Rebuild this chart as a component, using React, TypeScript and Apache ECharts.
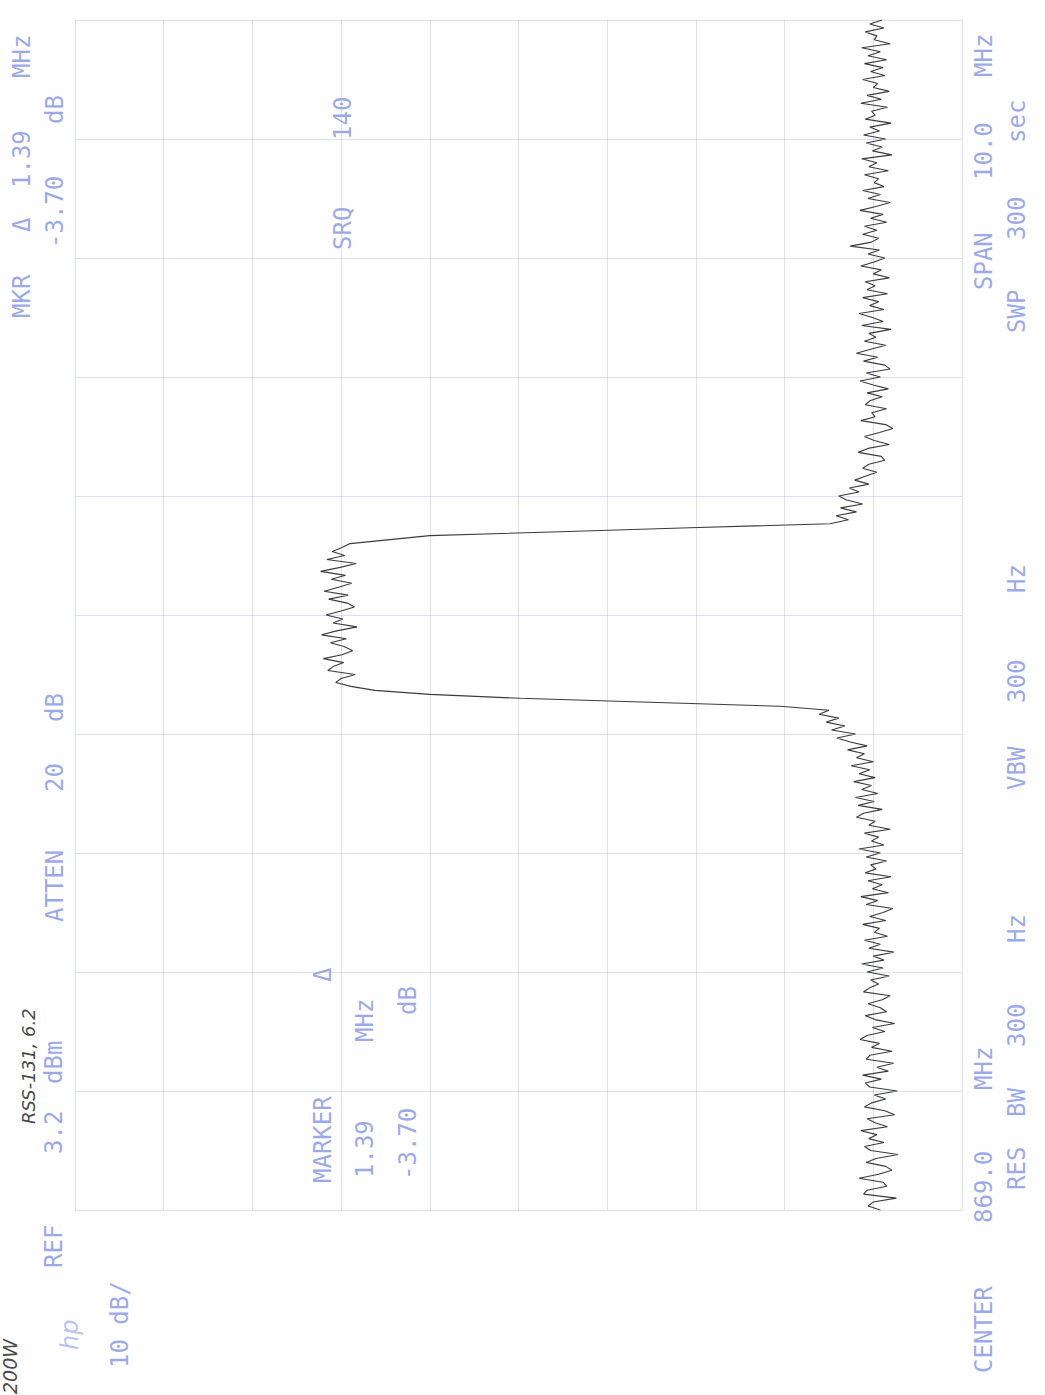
import React, { useEffect, useRef } from "react";
import * as echarts from "echarts";

// Instrument settings
const REF_DBM = 3.2;
const CENTER_MHZ = 869.0;
const SPAN_MHZ = 10.0;
const DB_PER_DIV = 10;
const DIVS = 10;

const lowerNoise = [
  -87.6, -86.2, -86.8, -89.4, -85.7, -86.1, -88.3, -87.9, -85.2, -87.4, -88.9, -88.2, -86.0, -87.1, -89.6, -86.5, -85.8, -88.0, -86.3, -87.2,
  -85.4, -88.4, -87.0, -86.1, -89.2, -88.1, -85.8, -86.6, -88.2, -86.9, -89.5, -86.4, -85.9, -87.7, -85.6, -88.5, -87.2, -89.1, -86.0, -86.4,
  -88.9, -86.6, -87.5, -85.3, -86.1, -88.1, -86.7, -89.2, -87.0, -85.9, -88.3, -87.6, -86.2, -87.8, -88.7, -85.7, -86.4, -87.4, -86.5, -88.6,
  -86.1, -87.9, -85.5, -88.0, -86.8, -89.1, -86.3, -87.6, -85.8, -88.4, -86.9, -87.5, -85.6, -88.2, -86.4, -87.9, -89.0, -86.0, -87.3, -85.4,
  -88.5, -86.7, -87.8, -86.2, -88.8, -85.9, -87.1, -86.5, -88.3, -86.0, -87.6, -85.2, -88.0, -86.6, -87.4, -85.8, -88.7, -86.3, -87.0, -84.9,
  -85.7, -87.8, -85.1, -86.9, -84.8, -87.3, -85.5, -86.6, -84.6, -87.0, -85.2, -86.4, -84.3, -86.8, -84.9, -85.8, -83.9, -86.1,
];
const lowerSkirt = [-84.2, -82.7, -84.8, -82.1, -83.6, -81.5, -82.9, -80.7, -81.8];
const lowerEdge = [-76.3, -61.6, -47.0, -36.8, -30.6];
const plateau = [
  -27.9, -26.2, -26.8, -28.4, -25.3, -25.9, -27.1, -24.8, -26.9, -28.1, -27.2, -25.6, -27.4, -24.6, -26.3, -28.6, -25.9, -27.0,
  -25.1, -26.8, -28.3, -27.5, -25.4, -27.6, -24.9, -26.5, -28.0, -25.7, -27.3, -24.5, -26.7, -28.5, -25.2, -27.2, -25.8, -26.9,
];
const upperEdge = [-27.8, -32.3, -36.8, -51.5, -66.1, -81.9];
const upperSkirt = [-84.0, -82.6, -84.9, -83.1, -85.6, -83.8, -82.9, -85.2, -84.1, -86.3, -84.7, -85.9];
const upperNoise = [
  -87.2, -85.6, -86.3, -88.1, -87.7, -85.1, -86.2, -88.6, -86.9, -85.8, -87.5, -89.0, -88.2, -85.4, -87.0, -86.6, -88.3, -85.9, -86.4, -87.8,
  -86.1, -88.5, -86.8, -85.3, -87.6, -86.0, -88.7, -88.1, -85.7, -87.3, -84.9, -86.5, -88.2, -85.8, -87.1, -86.3, -88.8, -85.5, -87.9, -86.7,
  -85.2, -88.0, -86.4, -87.4, -85.6, -88.4, -86.1, -87.0, -85.9, -88.6, -86.8, -87.7, -85.4, -86.9, -88.1, -86.2, -87.5, -84.2, -86.6, -87.4,
  -85.6, -87.2, -85.8, -88.3, -86.5, -87.9, -85.3, -87.1, -88.7, -86.2, -87.6, -85.6, -88.0, -86.9, -87.4, -85.8, -88.5, -86.3, -87.2, -85.5,
  -88.9, -86.7, -87.8, -86.0, -88.2, -85.7, -87.5, -86.4, -88.8, -85.9, -87.0, -86.6, -88.4, -85.4, -87.7, -86.1, -88.6, -86.8, -87.3, -85.6,
  -88.1, -86.5, -87.9, -85.8, -88.3, -86.2, -87.6, -85.5, -88.7, -86.9, -87.2, -85.9, -88.0, -86.4, -87.8,
];

// Annotation texts (rotated, as printed)
const leftAnnots = [
  { t: "MKR", x: 22, y: 318 }, { t: "Δ", x: 22, y: 232 }, { t: "1.39", x: 22, y: 188 }, { t: "MHz", x: 22, y: 78 },
  { t: "-3.70", x: 55, y: 248 }, { t: "dB", x: 55, y: 124 },
  { t: "REF", x: 54, y: 1268 }, { t: "3.2", x: 54, y: 1154 }, { t: "dBm", x: 54, y: 1084 },
  { t: "ATTEN", x: 55, y: 922 }, { t: "20", x: 55, y: 792 }, { t: "dB", x: 55, y: 722 },
  { t: "10 dB/", x: 120, y: 1368 },
];
const bodyAnnots = [
  { t: "MARKER", x: 323, y: 1183 }, { t: "Δ", x: 323, y: 982 },
  { t: "1.39", x: 365, y: 1178 }, { t: "MHz", x: 365, y: 1042 },
  { t: "-3.70", x: 408, y: 1180 }, { t: "dB", x: 408, y: 1015 },
  { t: "SRQ", x: 343, y: 250 }, { t: "140", x: 343, y: 140 },
];
const rightAnnots = [
  { t: "CENTER", x: 984, y: 1373 }, { t: "869.0", x: 984, y: 1223 }, { t: "MHz", x: 984, y: 1090 },
  { t: "SPAN", x: 984, y: 290 }, { t: "10.0", x: 984, y: 180 }, { t: "MHz", x: 984, y: 77 },
  { t: "RES", x: 1017, y: 1190 }, { t: "BW", x: 1017, y: 1117 }, { t: "300", x: 1017, y: 1047 }, { t: "Hz", x: 1017, y: 943 },
  { t: "VBW", x: 1017, y: 790 }, { t: "300", x: 1017, y: 703 }, { t: "Hz", x: 1017, y: 593 },
  { t: "SWP", x: 1017, y: 333 }, { t: "300", x: 1017, y: 240 }, { t: "sec", x: 1017, y: 143 },
];
const handNotes = [
  { t: "200W", x: 10, y: 1394, size: 19 },
  { t: "RSS-131, 6.2", x: 28, y: 1124, size: 18 },
];

export default function App() {
  const ref = useRef<HTMLDivElement>(null);
  useEffect(() => {
    if (!ref.current) return;
    const chart = echarts.init(ref.current, undefined, { renderer: "svg" });
    const trace = [
      ...lowerNoise, ...lowerSkirt, ...lowerEdge, ...plateau, ...upperEdge, ...upperSkirt, ...upperNoise,
    ];
    const start = CENTER_MHZ - SPAN_MHZ / 2;
    const step = SPAN_MHZ / (trace.length - 1);
    const data = trace.map((v, i) => [v - REF_DBM, start + i * step]);

    const blue = "rgba(118,136,224,0.72)";
    const mono = "'DejaVu Sans Mono', 'Liberation Mono', monospace";
    const rot = (a: { t: string; x: number; y: number }, size = 24, font = mono, color = blue, style = "normal") => ({
      type: "text",
      x: a.x,
      y: a.y,
      rotation: Math.PI / 2,
      silent: true,
      style: {
        text: a.t,
        fill: color,
        font: `${style} normal ${size}px ${font}`,
        textAlign: "left",
        textVerticalAlign: "middle",
      },
    });

    const graphics: any[] = [
      ...leftAnnots.map((a) => rot(a)),
      ...bodyAnnots.map((a) => rot(a)),
      ...rightAnnots.map((a) => rot(a)),
      rot({ t: "hp", x: 70, y: 1350 }, 24, "'DejaVu Sans', sans-serif", "rgba(118,136,224,0.5)", "italic"),
      ...handNotes.map((a) => rot(a, a.size, "'DejaVu Sans', sans-serif", "#4a4a4a", "italic")),
    ];

    const gridLine = { show: true, lineStyle: { color: "rgba(160,172,232,0.35)", width: 1 } };
    chart.setOption({
      animation: false,
      backgroundColor: "#fefefe",
      grid: { left: 75, top: 20, width: 887, height: 1190, containLabel: false },
      xAxis: {
        type: "value",
        inverse: true,
        min: -DB_PER_DIV * DIVS,
        max: 0,
        interval: DB_PER_DIV,
        axisLabel: { show: false },
        axisTick: { show: false },
        axisLine: { show: false },
        splitLine: gridLine,
      },
      yAxis: {
        type: "value",
        min: start,
        max: start + SPAN_MHZ,
        interval: SPAN_MHZ / DIVS,
        axisLabel: { show: false },
        axisTick: { show: false },
        axisLine: { show: false },
        splitLine: gridLine,
      },
      series: [
        {
          type: "line",
          data,
          symbol: "none",
          smooth: false,
          lineStyle: { color: "#3c3c3c", width: 1.1 },
          z: 5,
        },
      ],
      graphic: graphics,
    });
    return () => chart.dispose();
  }, []);
  return <div ref={ref} style={{ position: "absolute", left: 0, top: 0, width: 1045, height: 1395 }} />;
}
